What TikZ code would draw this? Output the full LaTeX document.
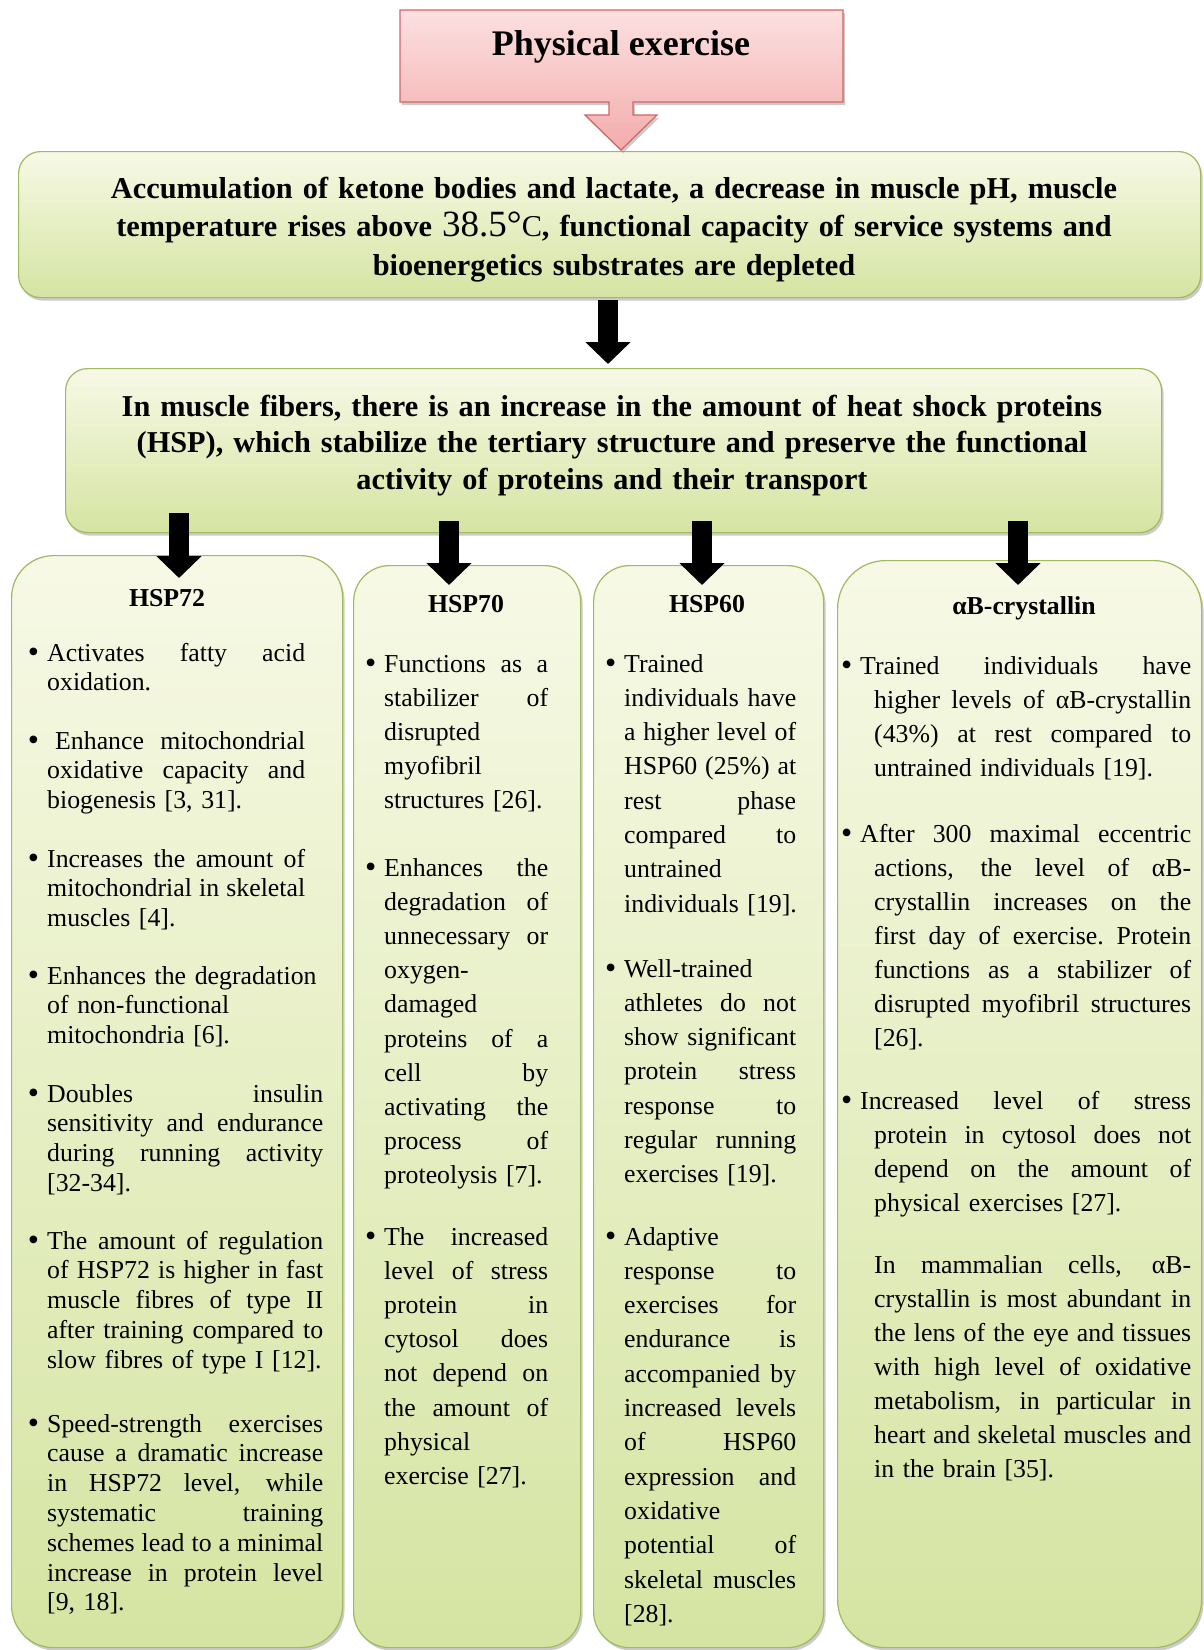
\documentclass[tikz,border=0pt]{standalone}
\usepackage{fontspec}
\setmainfont{Liberation Serif}
\usetikzlibrary{arrows.meta,shadows}
\definecolor{pinkT}{RGB}{252,224,224}
\definecolor{pinkB}{RGB}{243,172,172}
\definecolor{pinkL}{RGB}{212,100,100}
\definecolor{grnT}{RGB}{247,249,230}
\definecolor{grnB}{RGB}{213,228,162}
\definecolor{grnL}{RGB}{160,186,94}
\newcommand\J[1]{\leavevmode\hbox to \hsize{\spaceskip=0.25em plus 3em minus 0.05em\relax #1}\\\relax}
\newcommand\N[1]{\leavevmode\mbox{#1}\\\relax}
\newcommand\LL[1]{\leavevmode\mbox{#1}}
\newcommand\bul{\leavevmode\llap{\raisebox{-1.5pt}{\fontsize{32}{32}\selectfont\textbullet}\hspace{8pt}}}
\newcommand\JI[1]{\leavevmode\hspace*{14pt}\hbox to \dimexpr\hsize-14pt\relax{\spaceskip=0.25em plus 3em minus 0.05em\relax #1}\\\relax}
\newcommand\NI[1]{\leavevmode\hspace*{14pt}\mbox{#1}}
\begin{document}
\begin{tikzpicture}[x=1pt,y=-1pt,
  shad/.style={drop shadow={shadow xshift=2pt,shadow yshift=-3pt,fill=black!45,opacity=0.45}},
  gbox/.style={draw=grnL, line width=1.2pt, top color=grnT, bottom color=grnB, shad, inner sep=0pt, anchor=north west},
  headtxt/.style={font=\fontsize{30.3}{#1}\selectfont\bfseries, text width=1150pt, align=center, inner sep=0pt, anchor=base},
  coltitle/.style={font=\fontsize{25.8}{30}\selectfont\bfseries, inner sep=0pt, anchor=base},
  para/.style={inner sep=0pt, anchor=base west, text width=#1},
  ca/.style={para=#1, font=\fontsize{25.8}{29.8}\selectfont},
  cb/.style={para=164pt, font=\fontsize{25.8}{34.2}\selectfont},
  cc/.style={para=172pt, font=\fontsize{25.8}{34.3}\selectfont},
  cd/.style={para=#1, font=\fontsize{25.8}{34}\selectfont},
  blk/.style={line width=20pt, -{Triangle[width=44pt,length=22pt]}}
]
\useasboundingbox[fill=white] (0,0) rectangle (1203,1650);

% second box
\node[gbox, rounded corners=22pt, minimum width=1182pt, minimum height=146pt] (b2) at (18,151) {};

% pink callout
\path[shad, draw=pinkL, line width=1.2pt, top color=pinkT, bottom color=pinkB]
  (400,10) -- (843,10) -- (843,102) -- (633,102) -- (633,115) -- (657,115) -- (621,150)
  -- (585,115) -- (609,115) -- (609,102) -- (400,102) -- cycle;
\node[font=\fontsize{36}{40}\selectfont\bfseries, inner sep=0pt, anchor=base] (pe) at (621,55) {Physical exercise};

\node[headtxt=38.6] (t2) at (614,198) {Accumulation of ketone bodies and lactate, a decrease in muscle pH, muscle\\
temperature rises above {\mdseries\fontsize{37}{37}\selectfont 38.5°}{\mdseries C}, functional capacity of service systems and\\
bioenergetics substrates are depleted};

% third box
\node[gbox, rounded corners=22pt, minimum width=1096pt, minimum height=164pt] (b3) at (65,368) {};
\node[headtxt=36.5] (t3) at (612,416) {In muscle fibers, there is an increase in the amount of heat shock proteins\\
(HSP), which stabilize the tertiary structure and preserve the functional\\
activity of proteins and their transport};

\coordinate (a1s) at (608,300);
\coordinate (a1e) at (608,364);
\draw[blk] (a1s) -- (a1e);

% columns
\node[gbox, rounded corners=42pt, minimum width=331pt, minimum height=1092pt] (c1) at (11,555) {};
\node[gbox, rounded corners=36pt, minimum width=227pt, minimum height=1082pt] (c2) at (353,565) {};
\node[gbox, rounded corners=36pt, minimum width=230pt, minimum height=1082pt] (c3) at (593,565) {};
\node[gbox, rounded corners=48pt, minimum width=364pt, minimum height=1087pt] (c4) at (837,560) {};

\coordinate (k1s) at (179,513);  \coordinate (k1e) at (179,578);
\coordinate (k2s) at (449,521);  \coordinate (k2e) at (449,585);
\coordinate (k3s) at (702,521);  \coordinate (k3e) at (702,585);
\coordinate (k4s) at (1018,521); \coordinate (k4e) at (1018,585);
\draw[blk] (k1s) -- (k1e);
\draw[blk] (k2s) -- (k2e);
\draw[blk] (k3s) -- (k3e);
\draw[blk] (k4s) -- (k4e);

% titles
\node[coltitle] (h72) at (167,606) {HSP72};
\node[coltitle] (h70) at (466,612) {HSP70};
\node[coltitle] (h60) at (707,612) {HSP60};
\node[coltitle] (hab) at (1024,614) {αB-crystallin};

% column 1
\node[ca=258pt] (p11) at (47,661) {\bul\J{Activates fatty acid}\LL{oxidation.}};
\node[ca=258pt] (p12) at (47,749) {\bul\J{\hspace{8pt}Enhance mitochondrial}\J{oxidative capacity and}\LL{biogenesis [3, 31].}};
\node[ca=258pt] (p13) at (47,867) {\bul\J{Increases the amount of}\J{mitochondrial in skeletal}\LL{muscles [4].}};
\node[ca=258pt] (p14) at (47,984) {\bul\N{Enhances the degradation}\N{of non-functional}\LL{mitochondria [6].}};
\node[ca=276pt] (p15) at (47,1102) {\bul\J{Doubles insulin}\J{sensitivity and endurance}\J{during running activity}\LL{[32-34].}};
\node[ca=276pt] (p16) at (47,1249) {\bul\J{The amount of regulation}\J{of HSP72 is higher in fast}\J{muscle fibres of type II}\J{after training compared to}\LL{slow fibres of type I [12].}};
\node[ca=276pt] (p17) at (47,1432) {\bul\J{Speed-strength exercises}\J{cause a dramatic increase}\J{in HSP72 level, while}\J{systematic training}\J{schemes lead to a minimal}\J{increase in protein level}\LL{[9, 18].}};

% column 2
\node[cb] (p21) at (384,672) {\bul\J{Functions as a}\J{stabilizer of}\N{disrupted}\N{myofibril}\LL{structures [26].}};
\node[cb] (p22) at (384,876) {\bul\J{Enhances the}\J{degradation of}\J{unnecessary or}\N{oxygen-}\N{damaged}\J{proteins of a}\J{cell by}\J{activating the}\J{process of}\LL{proteolysis [7].}};
\node[cb] (p23) at (384,1245) {\bul\J{The increased}\J{level of stress}\J{protein in}\J{cytosol does}\J{not depend on}\J{the amount of}\N{physical}\LL{exercise [27].}};

% column 3
\node[cc] (p31) at (624,672) {\bul\N{Trained}\J{individuals have}\J{a higher level of}\J{HSP60 (25\%) at}\J{rest phase}\J{compared to}\N{untrained}\LL{individuals [19].}};
\node[cc] (p32) at (624,977) {\bul\N{Well-trained}\J{athletes do not}\J{show significant}\J{protein stress}\J{response to}\J{regular running}\LL{exercises [19].}};
\node[cc] (p33) at (624,1245) {\bul\N{Adaptive}\J{response to}\J{exercises for}\J{endurance is}\J{accompanied by}\J{increased levels}\J{of HSP60}\J{expression and}\N{oxidative}\J{potential of}\J{skeletal muscles}\LL{[28].}};

% column 4
\node[cd=331pt] (p41) at (860,674) {\bul\J{Trained individuals have}\JI{higher levels of αB-crystallin}\JI{(43\%) at rest compared to}\NI{untrained individuals [19].}};
\node[cd=331pt] (p42) at (860,842) {\bul\J{After 300 maximal eccentric}\JI{actions, the level of αB-}\JI{crystallin increases on the}\JI{first day of exercise. Protein}\JI{functions as a stabilizer of}\JI{disrupted myofibril structures}\NI{[26].}};
\node[cd=331pt] (p43) at (860,1109) {\bul\J{Increased level of stress}\JI{protein in cytosol does not}\JI{depend on the amount of}\NI{physical exercises [27].}};
\node[cd=317pt] (p44) at (874,1273) {\J{In mammalian cells, αB-}\J{crystallin is most abundant in}\J{the lens of the eye and tissues}\J{with high level of oxidative}\J{metabolism, in particular in}\J{heart and skeletal muscles and}\LL{in the brain [35].}};
\end{tikzpicture}
\end{document}
